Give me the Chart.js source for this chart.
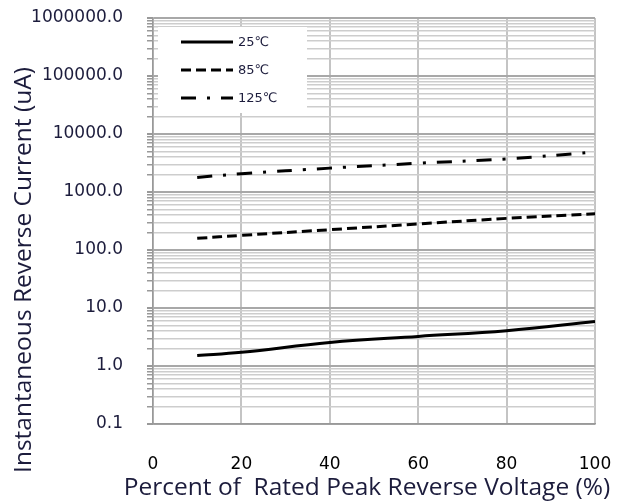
<!DOCTYPE html>
<html>
<head>
<meta charset="utf-8">
<script src="https://cdn.jsdelivr.net/npm/chart.js@4.4.0/dist/chart.umd.min.js"></script>
<style>
  html, body { margin: 0; padding: 0; background: #fff; }
  #wrap { width: 622px; height: 502px; }
</style>
</head>
<body>
<div id="wrap"><canvas id="chart"></canvas></div>
<script>
// values
const voltagePct = [10, 20, 40, 60, 80, 100];
const current25 = [1.51, 1.72, 2.55, 3.24, 4.06, 5.87];
const current85 = [159, 179, 224, 281, 351, 423];
const current125 = [1786, 2065, 2580, 3130, 3720, 4880];
const seriesLabels = ['25℃', '85℃', '125℃'];
const xTicks = [0, 20, 40, 60, 80, 100];
const yDecades = [0.1, 1, 10, 100, 1000, 10000, 100000, 1000000];
const xTitle = 'Percent of  Rated Peak Reverse Voltage (%)';
const yTitleText = 'Instantaneous Reverse Current (uA)';

const textColor = '#1c1c3c';
const titleFont = '24.5px "Open Sans", sans-serif';

function toPoints(ys) {
  return voltagePct.map((x, i) => ({ x: x, y: ys[i] }));
}

function isMajor(v) {
  return yDecades.some(d => Math.abs(v / d - 1) < 1e-6);
}

// log ticks: every 1..9 step in each decade
function logTicks() {
  const out = [];
  for (let i = 0; i < yDecades.length - 1; i++) {
    for (let m = 1; m <= 9; m++) out.push({ value: +(yDecades[i] * m).toPrecision(6) });
  }
  out.push({ value: yDecades[yDecades.length - 1] });
  return out;
}

// legend box drawn inside the plot, top-left
const insideLegend = {
  id: 'insideLegend',
  afterDatasetsDraw(chart) {
    const { ctx, chartArea } = chart;
    const x0 = chartArea.left + 5;
    const y0 = chartArea.top + 9;
    ctx.save();
    ctx.fillStyle = '#fff';
    ctx.fillRect(x0, y0, 149, 86);
    ctx.font = '13px "DejaVu Sans", "Noto Sans CJK SC", sans-serif';
    ctx.textBaseline = 'middle';
    chart.data.datasets.forEach((ds, i) => {
      const y = y0 + 15 + i * 28;
      ctx.strokeStyle = ds.borderColor;
      ctx.lineWidth = ds.borderWidth;
      ctx.setLineDash(ds.borderDash || []);
      ctx.beginPath();
      ctx.moveTo(x0 + 23, y);
      ctx.lineTo(x0 + 75, y);
      ctx.stroke();
      ctx.setLineDash([]);
      ctx.fillStyle = textColor;
      ctx.fillText(ds.label, x0 + 80, y + 1);
    });
    ctx.restore();
  }
};

// axis titles, placed by hand since the reference is off-centre
const axisTitles = {
  id: 'axisTitles',
  afterDraw(chart) {
    const { ctx } = chart;
    ctx.save();
    ctx.font = titleFont;
    ctx.fillStyle = textColor;
    ctx.textAlign = 'center';
    ctx.textBaseline = 'middle';
    ctx.fillText(xTitle, 367, 488);
    ctx.translate(24, 270);
    ctx.rotate(-Math.PI / 2);
    ctx.fillText(yTitleText, 0, 0);
    ctx.restore();
  }
};

const ctx = document.getElementById('chart');

new Chart(ctx, {
  type: 'line',
  data: {
    datasets: [
      {
        label: seriesLabels[0],
        data: toPoints(current25),
        borderColor: '#000',
        borderWidth: 3,
        borderDash: []
      },
      {
        label: seriesLabels[1],
        data: toPoints(current85),
        borderColor: '#000',
        borderWidth: 3,
        borderDash: [10, 5]
      },
      {
        label: seriesLabels[2],
        data: toPoints(current125),
        borderColor: '#000',
        borderWidth: 3,
        borderDash: [15, 11, 3, 11]
      }
    ]
  },
  options: {
    responsive: true,
    maintainAspectRatio: false,
    animation: false,
    layout: {
      padding: { top: 18, right: 27, left: 0, bottom: 0 }
    },
    elements: {
      point: { radius: 0 },
      line: { tension: 0.4 }
    },
    scales: {
      x: {
        type: 'linear',
        min: 0,
        max: 100,
        afterBuildTicks: (scale) => {
          scale.ticks = xTicks.map(v => ({ value: v }));
        },
        afterFit: (scale) => {
          scale.height = 78;
          scale.paddingLeft = 0;
          scale.paddingRight = 0;
        },
        ticks: {
          padding: 30,
          color: '#000',
          font: { family: 'DejaVu Sans', size: 17 }
        },
        grid: {
          color: '#c4c4c4',
          lineWidth: 2,
          drawTicks: false
        },
        border: { color: '#999', width: 1.5 }
      },
      y: {
        type: 'logarithmic',
        min: yDecades[0],
        max: yDecades[yDecades.length - 1],
        afterBuildTicks: (scale) => { scale.ticks = logTicks(); },
        afterFit: (scale) => {
          scale.width = 153;
          scale.paddingTop = 0;
          scale.paddingBottom = 0;
        },
        ticks: {
          autoSkip: false,
          padding: 24,
          color: textColor,
          font: { family: 'DejaVu Sans', size: 17 },
          callback: (value) => isMajor(value) ? Number(value).toFixed(1) : ''
        },
        grid: {
          color: (c) => c.tick && isMajor(c.tick.value) ? '#a8a8a8' : '#cdcdcd',
          lineWidth: (c) => c.tick && isMajor(c.tick.value) ? 2 : 1.5,
          tickLength: 6,
          tickColor: '#999'
        },
        border: { color: '#999', width: 1.5 }
      }
    },
    plugins: {
      legend: { display: false },
      tooltip: { enabled: false }
    }
  },
  plugins: [insideLegend, axisTitles]
});
</script>
</body>
</html>
